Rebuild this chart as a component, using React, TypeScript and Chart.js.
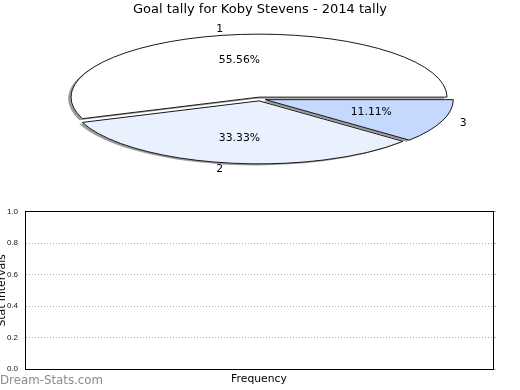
import { useEffect, useRef } from 'react';
import { Chart, registerables } from 'chart.js';

Chart.register(...registerables);

// ---- data ----
const pieLabels = ['1', '2', '3'];
const pieValues = [5, 3, 1];
const pieColors = ['#ffffff', '#eaf1fe', '#c5d8fd'];
const pieExplode = [0.03, 0.03, 0.03];
const yTickValues = [0, 0.2, 0.4, 0.6, 0.8, 1.0];
const titleText = 'Goal tally for Koby Stevens - 2014 tally';
const xTitle = 'Frequency';
const yTitle = 'Stat Intervals';
const watermark = 'Dream-Stats.com';

// ---- layout of the flattened pie (screen px) ----
const PIE_CX = 260;
const PIE_CY = 99;
const PIE_RX = 188;
const PIE_RY = 63;
const FONT = "'DejaVu Sans', sans-serif";

function applyPieTransform(ctx: CanvasRenderingContext2D, el: any, i: number) {
  const mid = (el.startAngle + el.endAngle) / 2;
  const r = el.outerRadius;
  const ex = pieExplode[i] * PIE_RX * Math.cos(mid);
  const ey = -pieExplode[i] * PIE_RY * Math.sin(mid);
  ctx.translate(PIE_CX + ex, PIE_CY + ey);
  ctx.scale(PIE_RX / r, -PIE_RY / r);
  ctx.translate(-el.x, -el.y);
}

const pieProjection = {
  id: 'pieProjection',
  beforeDatasetsDraw(chart: any) {
    const ctx: CanvasRenderingContext2D = chart.ctx;
    const els = chart.getDatasetMeta(0).data;
    // shadows
    els.forEach((el: any, i: number) => {
      ctx.save();
      ctx.shadowColor = 'rgba(77,77,77,0.55)';
      ctx.shadowOffsetX = -3;
      ctx.shadowOffsetY = 1.5;
      ctx.shadowBlur = 0;
      applyPieTransform(ctx, el, i);
      el.draw(ctx);
      ctx.restore();
    });
    // fills
    els.forEach((el: any, i: number) => {
      ctx.save();
      applyPieTransform(ctx, el, i);
      el.draw(ctx);
      ctx.restore();
    });
    // outlines
    els.forEach((el: any, i: number) => {
      ctx.save();
      applyPieTransform(ctx, el, i);
      ctx.beginPath();
      ctx.moveTo(el.x, el.y);
      ctx.arc(el.x, el.y, el.outerRadius, el.startAngle, el.endAngle);
      ctx.closePath();
      ctx.restore();
      ctx.save();
      ctx.lineWidth = 0.9;
      ctx.strokeStyle = '#000';
      ctx.lineJoin = 'miter';
      ctx.stroke();
      ctx.restore();
    });
    return false;
  },
};

const pieText = {
  id: 'pieText',
  afterDraw(chart: any) {
    const ctx: CanvasRenderingContext2D = chart.ctx;
    const els = chart.getDatasetMeta(0).data;
    const values: number[] = chart.data.datasets[0].data;
    const total = values.reduce((a, b) => a + b, 0);
    ctx.save();
    ctx.font = `10.8px ${FONT}`;
    ctx.fillStyle = '#000';
    ctx.textBaseline = 'middle';
    els.forEach((el: any, i: number) => {
      const mid = (el.startAngle + el.endAngle) / 2;
      const c = Math.cos(mid);
      const s = Math.sin(mid);
      const ex = pieExplode[i] * PIE_RX * c;
      const ey = -pieExplode[i] * PIE_RY * s;
      const lx = PIE_CX + ex + 1.1 * PIE_RX * c;
      const ly = PIE_CY + ey - 1.1 * PIE_RY * s;
      ctx.textAlign = c > 0 ? 'left' : 'right';
      ctx.fillText(String(chart.data.labels[i]), lx, ly);
      const px = PIE_CX + ex + 0.6 * PIE_RX * c;
      const py = PIE_CY + ey - 0.6 * PIE_RY * s;
      ctx.textAlign = 'center';
      ctx.fillText(((values[i] / total) * 100).toFixed(2) + '%', px, py);
    });
    ctx.restore();
  },
};

const watermarkPlugin = {
  id: 'watermark',
  afterDraw(chart: any) {
    const ctx: CanvasRenderingContext2D = chart.ctx;
    ctx.save();
    ctx.font = `11.8px ${FONT}`;
    ctx.fillStyle = '#8c8c8c';
    ctx.textAlign = 'left';
    ctx.textBaseline = 'alphabetic';
    ctx.fillText(watermark, 0, 184);
    ctx.restore();
  },
};

export default function App() {
  const pieRef = useRef<HTMLCanvasElement>(null);
  const axRef = useRef<HTMLCanvasElement>(null);

  useEffect(() => {
    const pie = new Chart(pieRef.current as HTMLCanvasElement, {
      type: 'pie',
      data: {
        labels: pieLabels,
        datasets: [{ data: pieValues, backgroundColor: pieColors, borderWidth: 0 }],
      },
      options: {
        responsive: false,
        animation: false,
        devicePixelRatio: 1,
        events: [],
        rotation: 90,
        layout: { padding: 0 },
        plugins: {
          legend: { display: false },
          tooltip: { enabled: false },
          title: {
            display: true,
            text: titleText,
            color: '#000',
            font: { family: FONT, size: 13, weight: 'normal' },
            padding: { top: 2, bottom: 0 },
          },
        },
      } as any,
      plugins: [pieProjection, pieText],
    });

    const tickFont = { family: "'Liberation Sans Narrow', 'Liberation Sans', sans-serif", size: 8 };
    const ax = new Chart(axRef.current as HTMLCanvasElement, {
      type: 'scatter',
      data: { datasets: [] },
      options: {
        responsive: false,
        animation: false,
        devicePixelRatio: 1,
        events: [],
        layout: { padding: 0 },
        plugins: { legend: { display: false }, tooltip: { enabled: false } },
        scales: {
          x: {
            type: 'linear',
            position: 'bottom',
            min: 0,
            max: 1,
            ticks: { display: false },
            grid: { display: false },
            border: { display: true, color: '#000', width: 1 },
            title: {
              display: true,
              text: xTitle,
              color: '#000',
              font: { family: FONT, size: 10.8 },
              padding: { top: 0, bottom: 4 },
            },
            afterFit: (s: any) => { s.height = 21; },
          },
          x2: {
            type: 'linear',
            position: 'top',
            min: 0,
            max: 1,
            ticks: { display: false },
            grid: { display: false },
            border: { display: true, color: '#000', width: 1 },
            afterFit: (s: any) => { s.height = 10; },
          },
          y: {
            type: 'linear',
            position: 'left',
            min: 0,
            max: 1,
            afterBuildTicks: (s: any) => { s.ticks = yTickValues.map((v) => ({ value: v })); },
            ticks: {
              color: '#111',
              font: tickFont,
              padding: 7,
              callback: (v: any) => Number(v).toFixed(1),
            },
            grid: {
              drawTicks: false,
              lineWidth: 1,
              color: (c: any) =>
                c.tick && (c.tick.value === 0 || c.tick.value === 1) ? 'rgba(0,0,0,0)' : '#b0b0b0',
            },
            border: { display: true, color: '#000', width: 1, dash: [1, 2] },
            title: {
              display: true,
              text: yTitle,
              color: '#000',
              font: { family: FONT, size: 10.8 },
              padding: { top: -4, bottom: 0 },
            },
            afterFit: (s: any) => { s.width = 25; },
          },
          y2: {
            type: 'linear',
            position: 'right',
            min: 0,
            max: 1,
            afterBuildTicks: (s: any) => { s.ticks = yTickValues.map((v) => ({ value: v })); },
            ticks: { display: false },
            grid: { drawOnChartArea: false, drawTicks: true, tickLength: 3, tickColor: '#aaa' },
            border: { display: true, color: '#000', width: 1 },
            afterFit: (s: any) => { s.width = 27; },
          },
        },
      } as any,
      plugins: [watermarkPlugin],
    });

    return () => {
      pie.destroy();
      ax.destroy();
    };
  }, []);

  return (
    <div style={{ position: 'absolute', left: 0, top: 0, width: 520, height: 390, background: '#fff' }}>
      <canvas ref={pieRef} width={520} height={200} style={{ position: 'absolute', left: 0, top: 0 }} />
      <canvas ref={axRef} width={520} height={190} style={{ position: 'absolute', left: 0, top: 200 }} />
    </div>
  );
}
